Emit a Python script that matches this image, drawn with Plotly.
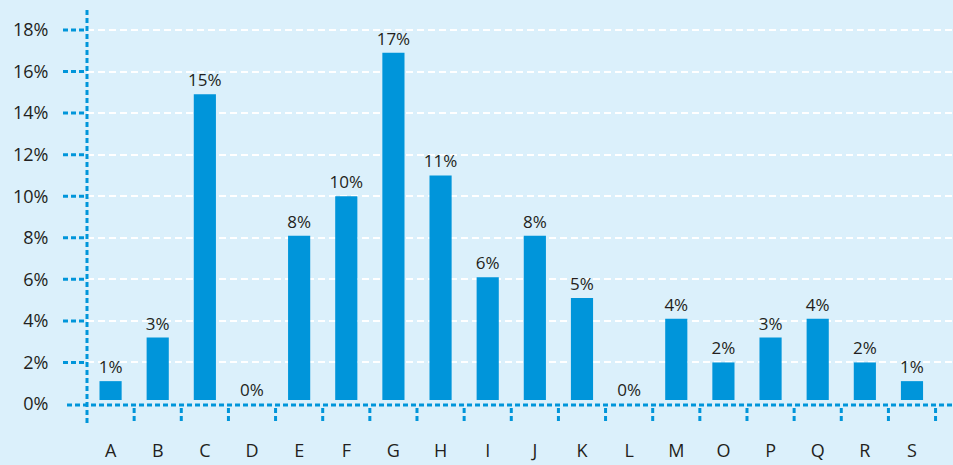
import plotly.graph_objects as go

categories = ["A", "B", "C", "D", "E", "F", "G", "H", "I", "J", "K", "L", "M", "O", "P", "Q", "R", "S"]
values = [1.1, 3.2, 14.9, 0, 8.1, 10.0, 16.9, 11.0, 6.1, 8.1, 5.1, 0, 4.1, 2.0, 3.2, 4.1, 2.0, 1.1]
y_ticks = [0, 2, 4, 6, 8, 10, 12, 14, 16, 18]
y_tick_labels = [f"{v}%" for v in y_ticks]

BG = "#dbf0fb"
BLUE = "#0095da"
TXT = "#231f20"
FONT = "Open Sans"

W, H = 953, 465
ML, MR, MT, MB = 87, 0, 10, 61
PW, PH = W - ML - MR, H - MT - MB


def px_x(p):
    return p / PW


def px_y(p):
    return p / PH


fig = go.Figure(go.Bar(
    x=categories, y=values,
    marker=dict(color=BLUE, line=dict(width=0)),
    text=[f"{round(v)}%" for v in values],
    textposition="outside",
    constraintext="none",
    textfont=dict(family=FONT, size=17, color=TXT),
    cliponaxis=False,
))

dot = dict(color=BLUE, width=3, dash="5px,3px")
shapes = []
# cover bottom of bars (small gap above axis line)
shapes.append(dict(type="rect", xref="x", x0=-0.45, x1=len(categories) - 0.5,
                   yref="paper", y0=px_y(-3), y1=px_y(4),
                   fillcolor=BG, line=dict(width=0), layer="above"))
# x axis line
shapes.append(dict(type="line", xref="paper", x0=px_x(-20), x1=1,
                   yref="paper", y0=px_y(-1), y1=px_y(-1), line=dot))
# y axis line
shapes.append(dict(type="line", xref="paper", x0=0, x1=0,
                   yref="paper", y0=px_y(-19), y1=1, line=dot))
# left tick dashes
for v in y_ticks[1:]:
    shapes.append(dict(type="line", xref="paper", x0=px_x(-24), x1=0,
                       yref="y", y0=v, y1=v, line=dot))
# bottom boundary ticks
for i in range(len(categories)):
    b = i + 0.5
    shapes.append(dict(type="line", xref="x", x0=b, x1=b,
                       yref="paper", y0=px_y(-4), y1=px_y(-19), line=dot))

fig.update_layout(
    width=W, height=H,
    margin=dict(l=ML, r=MR, t=MT, b=MB),
    paper_bgcolor=BG, plot_bgcolor=BG,
    bargap=0.53,
    showlegend=False,
    font=dict(family=FONT, color=TXT),
    shapes=shapes,
    xaxis=dict(
        range=[-0.5, 17.87], automargin=False,
        showgrid=False, zeroline=False, showline=False,
        ticks="outside", ticklen=30, tickcolor="rgba(0,0,0,0)",
        tickfont=dict(family=FONT, size=18, color=TXT),
    ),
    yaxis=dict(
        range=[0, 18.96], automargin=False,
        tickvals=y_ticks, ticktext=y_tick_labels,
        showgrid=True, gridcolor="white", gridwidth=2, griddash="7px,4px",
        zeroline=False, showline=False,
        ticks="outside", ticklen=34, tickcolor="rgba(0,0,0,0)",
        tickfont=dict(family=FONT, size=18, color=TXT),
    ),
)

fig.write_html(
    "out.html",
    config={"displayModeBar": False},
    post_script="document.body.style.margin='0px';document.body.style.overflow='hidden';",
)
